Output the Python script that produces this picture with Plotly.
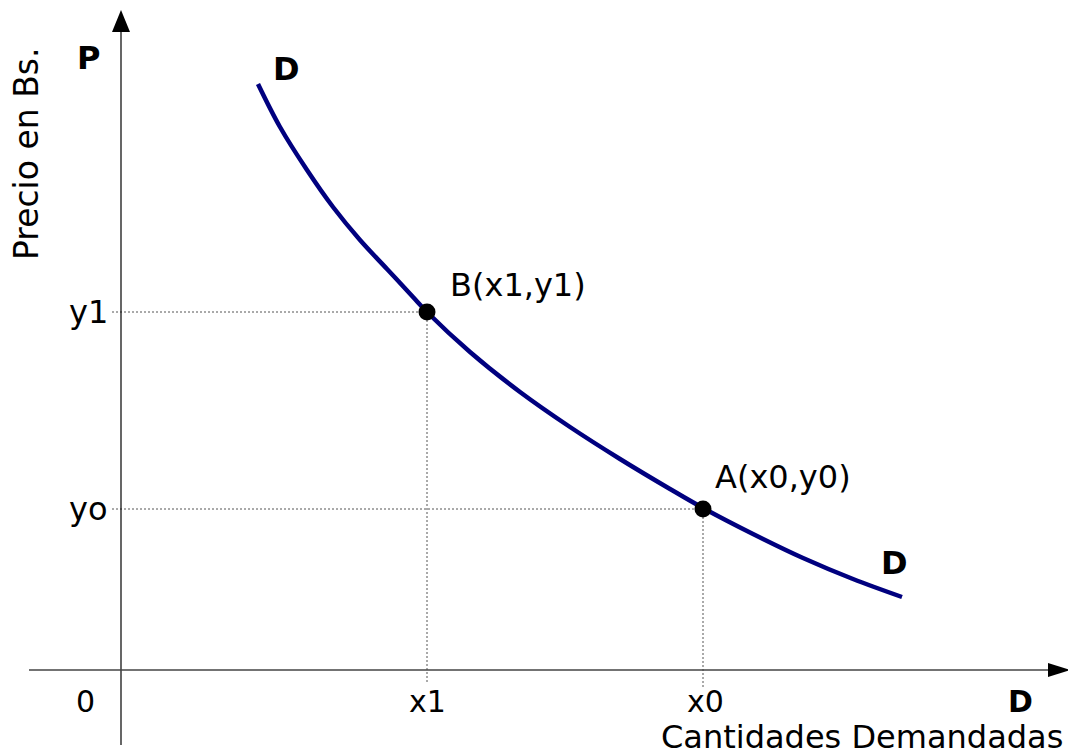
import plotly.graph_objects as go

# ---- data (units: arbitrary quantity / price units) ----
demand_q = [1.37, 1.59, 1.86, 2.12, 2.39, 2.66, 2.92, 3.06, 3.49, 3.99, 4.49,
            4.99, 5.49, 5.82, 6.32, 6.82, 7.32, 7.81]
demand_p = [5.86, 5.43, 5.00, 4.63, 4.30, 4.01, 3.73, 3.58, 3.18, 2.78, 2.43,
            2.11, 1.81, 1.62, 1.36, 1.12, 0.91, 0.73]

point_q = [3.06, 5.82]
point_p = [3.58, 1.61]
point_labels = ["B(x1,y1)", "A(x0,y0)"]

x_tick_vals = [-0.36, 3.06, 5.84, 8.99]
x_tick_text = ["0", "x1", "x0", "<b>D</b>"]
y_tick_vals = [3.58, 1.61]
y_tick_text = ["y1", "yo"]

# ---- layout constants ----
X_RANGE = [-1.21, 9.47]
Y_RANGE = [-0.86, 6.70]
FONT = "DejaVu Sans"
FS = 32
NAVY = "#00007f"
DOT = "#555555"
DOT_STYLE = dict(color=DOT, width=1, dash="2px,2px")

fig = go.Figure()

# dotted guide lines from points to axes
for q, p in zip(point_q, point_p):
    fig.add_trace(go.Scatter(x=[-0.09, q], y=[p, p], mode="lines",
                             line=DOT_STYLE, hoverinfo="skip"))
for q, p, yb in zip(point_q, point_p, [-0.12, -0.18]):
    fig.add_trace(go.Scatter(x=[q, q], y=[p, yb], mode="lines",
                             line=DOT_STYLE, hoverinfo="skip"))

# demand curve
fig.add_trace(go.Scatter(x=demand_q, y=demand_p, mode="lines",
                         line=dict(color=NAVY, width=4.5, shape="spline", smoothing=1.0),
                         hoverinfo="skip"))

# points
fig.add_trace(go.Scatter(x=point_q, y=point_p, mode="markers",
                         marker=dict(color="black", size=17), hoverinfo="skip"))

shapes = [
    # vertical axis
    dict(type="line", x0=0, x1=0, y0=-0.75, y1=6.40, line=dict(color="black", width=1.2)),
    # horizontal axis
    dict(type="line", x0=-0.92, x1=9.30, y0=0, y1=0, line=dict(color="#444444", width=1.5)),
    # arrowheads
    dict(type="path", path="M 0 6.60 L -0.09 6.38 L 0.09 6.38 Z",
         fillcolor="black", line=dict(color="black", width=0)),
    dict(type="path", path="M 9.49 0 L 9.27 0.07 L 9.27 -0.07 Z",
         fillcolor="black", line=dict(color="black", width=0)),
]

annotations = []
for v, t in zip(x_tick_vals, x_tick_text):
    annotations.append(dict(x=v, y=-0.31, text=t, showarrow=False,
                            xanchor="center", yanchor="middle", font=dict(size=30)))
for v, t in zip(y_tick_vals, y_tick_text):
    annotations.append(dict(x=-0.11, y=v, text=t, showarrow=False,
                            xanchor="right", yanchor="middle"))
# point labels
annotations.append(dict(x=3.27, y=3.85, text=point_labels[0], showarrow=False,
                        xanchor="left", yanchor="middle"))
annotations.append(dict(x=5.92, y=1.93, text=point_labels[1], showarrow=False,
                        xanchor="left", yanchor="middle"))
# curve labels
annotations.append(dict(x=1.65, y=6.01, text="<b>D</b>", showarrow=False))
annotations.append(dict(x=7.73, y=1.07, text="<b>D</b>", showarrow=False))
annotations.append(dict(x=-0.33, y=6.12, text="<b>P</b>", showarrow=False))
# axis titles
annotations.append(dict(x=9.44, y=-0.665, text="Cantidades Demandadas", showarrow=False,
                        xanchor="right", yanchor="middle", font=dict(size=32)))
annotations.append(dict(x=-0.95, y=5.16, text="Precio en Bs.", showarrow=False,
                        textangle=-90, xanchor="center", yanchor="middle",
                        font=dict(size=33)))

fig.update_layout(
    width=1068, height=756, autosize=False,
    margin=dict(l=0, r=0, t=0, b=0, pad=0),
    paper_bgcolor="white", plot_bgcolor="white",
    showlegend=False,
    font=dict(family=FONT, size=FS, color="black"),
    xaxis=dict(range=X_RANGE, visible=False, fixedrange=True),
    yaxis=dict(range=Y_RANGE, visible=False, fixedrange=True),
    shapes=shapes, annotations=annotations,
)

fig.write_html(
    "out.html",
    config={"displayModeBar": False},
    post_script="document.body.style.margin='0';document.body.style.padding='0';"
                "document.body.style.overflow='hidden';",
)
